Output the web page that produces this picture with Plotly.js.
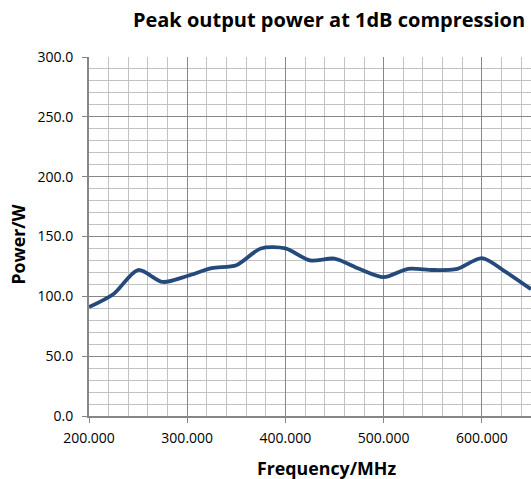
<!DOCTYPE html>
<html>
<head>
<meta charset="utf-8">
<script src="https://cdn.plot.ly/plotly-3.0.1.min.js"></script>
<style>html,body{margin:0;padding:0;background:#fff;}#chart{width:531px;height:479px;}</style>
</head>
<body>
<div id="chart"></div>
<script>
const frequency = [200, 225, 250, 275, 300, 325, 350, 375, 400, 425, 450, 475, 500, 525, 550, 575, 600, 625, 650];
const power = [91, 102, 122, 112, 117, 123.5, 126, 140, 140, 130, 131.5, 123, 116, 123, 122, 123, 132, 120, 106];
const chartTitle = 'Peak output power at 1dB compression';
const xTitle = 'Frequency/MHz';
const yTitle = 'Power/W';

const font = 'Open Sans, Liberation Sans, sans-serif';
const W = 531, H = 479, L = 89, T = 57, B = 63;
const trace = {
  x: frequency, y: power, type: 'scatter', mode: 'lines',
  line: {color: '#24497a', width: 3.8, shape: 'spline', smoothing: 0.8},
  hoverinfo: 'skip'
};
const layout = {
  width: W, height: H,
  margin: {l: L, r: 0, t: T, b: B},
  paper_bgcolor: '#ffffff', plot_bgcolor: '#ffffff',
  showlegend: false,
  font: {family: font, color: '#000000', size: 12},
  title: {text: '<b>' + chartTitle + '</b>', font: {family: font, size: 20, color: '#000'},
          xref: 'container', x: 329 / W, xanchor: 'center', yref: 'container', y: 1 - 20 / H, yanchor: 'middle'},
  xaxis: {
    range: [200, 650], tick0: 200, dtick: 100, tickformat: '.3f',
    showgrid: true, gridcolor: '#878787', gridwidth: 1,
    minor: {dtick: 20, showgrid: true, gridcolor: '#c2c2c2', gridwidth: 1},
    showline: true, linecolor: '#868686', linewidth: 2,
    ticks: 'outside', ticklen: 5, tickcolor: '#868686', tickwidth: 1,
    ticklabelstandoff: 3,
    zeroline: false, fixedrange: true,
    tickfont: {family: font, size: 14, color: '#000'}
  },
  yaxis: {
    range: [0, 300], tick0: 0, dtick: 50, tickformat: '.1f',
    showgrid: true, gridcolor: '#878787', gridwidth: 1,
    minor: {dtick: 10, showgrid: true, gridcolor: '#c2c2c2', gridwidth: 1},
    showline: true, linecolor: '#868686', linewidth: 2,
    ticks: 'outside', ticklen: 5, tickcolor: '#868686', tickwidth: 1,
    ticklabelstandoff: 6,
    zeroline: false, fixedrange: true,
    tickfont: {family: font, size: 14, color: '#000'}
  },
  annotations: [
    {text: '<b>' + xTitle + '</b>', xref: 'paper', yref: 'paper',
     x: (326 - L) / (W - L), y: -(468 - (H - B)) / (H - T - B), xanchor: 'center', yanchor: 'middle',
     showarrow: false, font: {family: font, size: 17.8, color: '#000'}},
    {text: '<b>' + yTitle + '</b>', xref: 'paper', yref: 'paper', textangle: -90,
     x: -(L - 17.5) / (W - L), y: 1 - (244 - T) / (H - T - B), xanchor: 'center', yanchor: 'middle',
     showarrow: false, font: {family: font, size: 17.7, color: '#000'}}
  ]
};
Plotly.newPlot('chart', [trace], layout, {displayModeBar: false, staticPlot: true});
</script>
</body>
</html>
